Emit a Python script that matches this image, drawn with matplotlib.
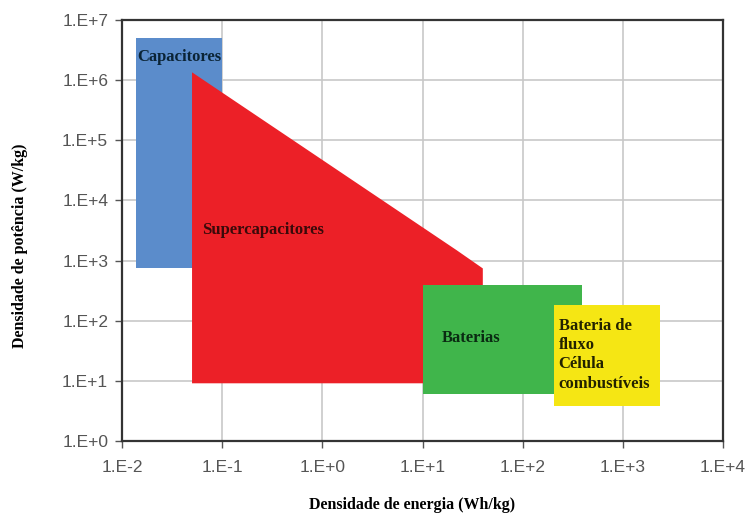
import matplotlib
matplotlib.use('Agg')
import matplotlib.pyplot as plt
from matplotlib.patches import Polygon, Rectangle

# Regioes do diagrama de Ragone (energia Wh/kg, potencia W/kg)
capacitores_x = [0.0138, 0.1]
capacitores_y = [740, 5.0e6]

super_x = [0.05, 22, 40, 40, 0.05]
super_y = [1.35e6, 1480, 740, 9.1, 9.1]

baterias_x = [10.1, 390]
baterias_y = [6.0, 390]

fluxo_x = [204, 2340]
fluxo_y = [3.8, 182]

x_ticks = [1e-2, 1e-1, 1e0, 1e1, 1e2, 1e3, 1e4]
x_labels = ['1.E-2', '1.E-1', '1.E+0', '1.E+1', '1.E+2', '1.E+3', '1.E+4']
y_ticks = [1e0, 1e1, 1e2, 1e3, 1e4, 1e5, 1e6, 1e7]
y_labels = ['1.E+0', '1.E+1', '1.E+2', '1.E+3', '1.E+4', '1.E+5', '1.E+6', '1.E+7']

fig = plt.figure(figsize=(7.5, 5.13), dpi=100)
ax = fig.add_axes([0.1627, 0.1404, 0.8013, 0.8206])
ax.set_xscale('log')
ax.set_yscale('log')
ax.set_xlim(1e-2, 1e4)
ax.set_ylim(1e0, 1e7)

ax.grid(True, which='major', color='#c8c8c8', linewidth=1.2, zorder=0)
ax.set_axisbelow(True)

def rect(xs, ys, color, z):
    return Rectangle((xs[0], ys[0]), xs[1] - xs[0], ys[1] - ys[0],
                     facecolor=color, edgecolor='none', zorder=z)

ax.add_patch(rect(capacitores_x, capacitores_y, '#5b8ccb', 2))
ax.add_patch(Polygon(list(zip(super_x, super_y)), closed=True,
                     facecolor='#ec2027', edgecolor='none', zorder=3))
ax.add_patch(rect(baterias_x, baterias_y, '#40b54b', 4))
ax.add_patch(rect(fluxo_x, fluxo_y, '#f5e614', 5))

lbl = dict(family='Liberation Serif', fontweight='bold', fontsize=12, zorder=6)
ax.text(0.0143, 2.4e6, 'Capacitores', color='#0b2436', va='center', **lbl)
ax.text(0.063, 3.2e3, 'Supercapacitores', color='#3a0a0a', va='center', **lbl)
ax.text(15.5, 51, 'Baterias', color='#0a2a12', va='center', **lbl)
ax.text(228, 112, 'Bateria de\nfluxo\nCélula\ncombustíveis', color='#222200',
        va='top', linespacing=1.28, **lbl)

ax.set_xticks(x_ticks)
ax.set_xticklabels(x_labels)
ax.set_yticks(y_ticks)
ax.set_yticklabels(y_labels)
ax.minorticks_off()
ax.tick_params(axis='both', which='major', direction='out', length=5, width=1,
               color='#555555', labelcolor='#555555', labelsize=12.5)
ax.tick_params(axis='x', pad=9)
ax.tick_params(axis='y', pad=5)
for t in ax.get_xticklabels() + ax.get_yticklabels():
    t.set_family('Liberation Sans')

for s in ax.spines.values():
    s.set_color('#333333')
    s.set_linewidth(1.6)

fig.text(0.0267, 0.52, 'Densidade de potência (W/kg)', rotation=90,
         ha='center', va='center', family='Liberation Serif',
         fontweight='bold', fontsize=11.5)
fig.text(0.549, 0.015, 'Densidade de energia (Wh/kg)', ha='center',
         va='center', family='Liberation Serif', fontweight='bold', fontsize=11.5)

fig.savefig('out.png', dpi=100)
plt.close(fig)
